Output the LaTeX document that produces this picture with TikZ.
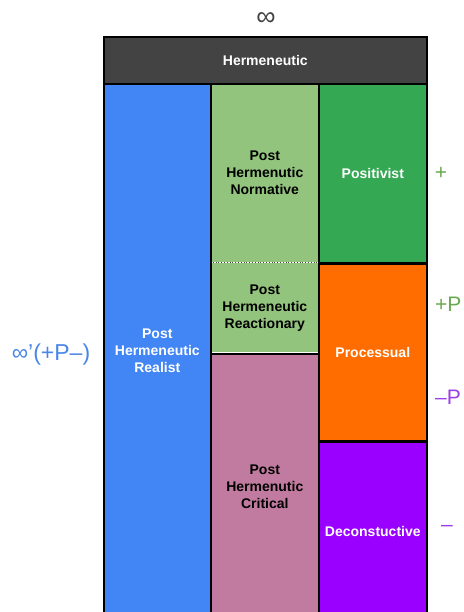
\documentclass[tikz,border=0pt]{standalone}
\usepackage{fontspec}
\setmainfont{Liberation Sans}
\usetikzlibrary{positioning}
\definecolor{hermGray}{HTML}{434343}
\definecolor{realistBlue}{HTML}{4285F4}
\definecolor{normGreen}{HTML}{93C47D}
\definecolor{positGreen}{HTML}{34A853}
\definecolor{procOrange}{HTML}{FF6D01}
\definecolor{decPurple}{HTML}{9900FF}
\definecolor{critPink}{HTML}{C27BA0}
\definecolor{labelBlue}{HTML}{4A86E8}
\definecolor{labelGreen}{HTML}{6AA84F}
\definecolor{labelPurple}{HTML}{9C3FE6}
\tikzset{
    cell/.style={rectangle, draw=black, line width=1.6pt, anchor=north west, align=center, inner sep=0pt, font=\bfseries\fontsize{14}{17}\selectfont},
    softcell/.style={cell, draw=none},
    sidelabel/.style={font=\fontsize{21}{24}\selectfont, inner sep=0pt},
    divider/.style={dotted, thick, draw=hermGray},
}
\begin{document}
\begin{tikzpicture}[x=1pt, y=-1pt]
    \useasboundingbox (0,0) rectangle (463,612);
    % columns and cells
    \node[softcell, fill=normGreen, minimum width=108pt, minimum height=178pt] (normative) at (210,83) {Post\\Hermenutic\\Normative};
    \node[softcell, fill=normGreen, minimum width=108pt, minimum height=89pt] (reactionary) at (normative.south west) {Post\\Hermeneutic\\Reactionary};
    \draw[divider] (normative.south west) -- (normative.south east);
    \node[cell, fill=critPink, minimum width=108pt, minimum height=266pt] (critical) at (reactionary.south west) {Post\\Hermenutic\\Critical};
    \node[cell, fill=realistBlue, text=white, minimum width=107pt, minimum height=533pt] (realist) at (103,83) {Post\\Hermeneutic\\Realist};
    \node[cell, fill=positGreen, text=white, minimum width=108pt, minimum height=179pt] (positivist) at (318,83) {Positivist};
    \node[cell, fill=procOrange, text=white, minimum width=108pt, minimum height=176pt] (processual) at (positivist.south west) {Processual};
    \node[cell, fill=decPurple, text=white, minimum width=108pt, minimum height=178pt] (deconstuctive) at (processual.south west) {Deconstuctive};
    \node[cell, fill=hermGray, text=white, minimum width=323pt, minimum height=47pt] (hermeneutic) at (103,36) {Hermeneutic};

    % side labels
    \node[sidelabel, text=hermGray, font=\fontsize{27}{30}\selectfont] (infinity) at (266,19) {∞};
    \node[sidelabel, text=labelBlue, font=\fontsize{23}{26}\selectfont] (loop) at (51,355) {∞’(+P–)};
    \node[sidelabel, text=labelGreen] (plus) at (441,173) {+};
    \node[sidelabel, text=labelGreen, anchor=west] (plusP) at (435,304) {+P};
    \node[sidelabel, text=labelPurple, anchor=west] (minusP) at (435,397) {–P};
    \node[sidelabel, text=labelPurple] (minus) at (447,528) {–};
\end{tikzpicture}
\end{document}
